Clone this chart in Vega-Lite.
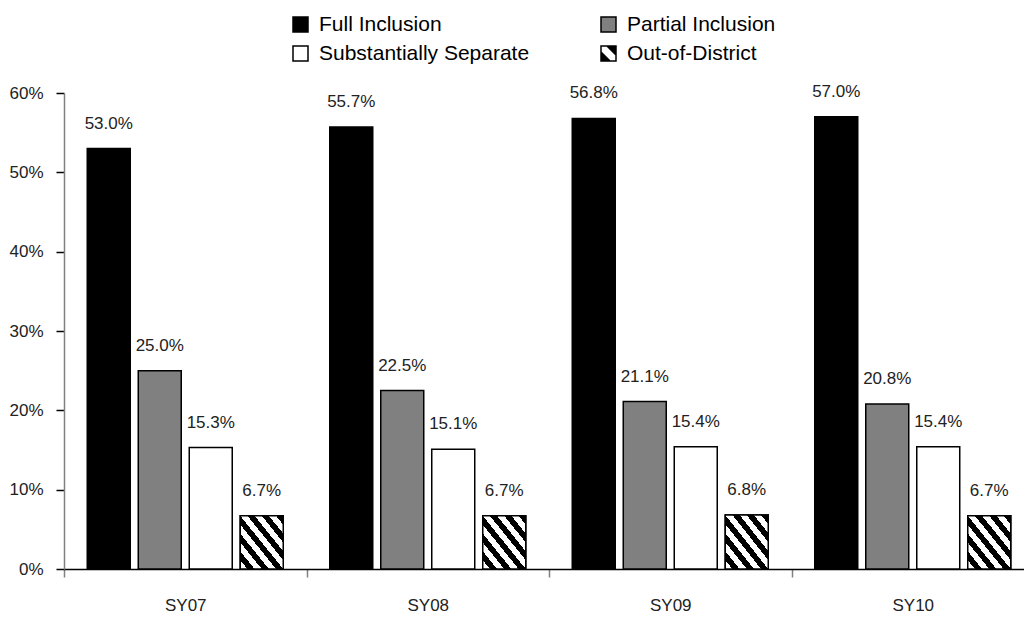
{
  "$schema": "https://vega.github.io/schema/vega-lite/v6.json",
  "autosize": {"type": "none"},
  "padding": {"left": 64, "top": 93, "right": 0, "bottom": 48},
  "width": 960,
  "height": 476,
  "background": "white",
  "config": {
    "view": {"stroke": null},
    "font": "Liberation Sans"
  },
  "data": {
    "values": [
      {"year": "SY07", "cat": "Full Inclusion", "value": 0.530},
      {"year": "SY07", "cat": "Partial Inclusion", "value": 0.250},
      {"year": "SY07", "cat": "Substantially Separate", "value": 0.153},
      {"year": "SY07", "cat": "Out-of-District", "value": 0.067},
      {"year": "SY08", "cat": "Full Inclusion", "value": 0.557},
      {"year": "SY08", "cat": "Partial Inclusion", "value": 0.225},
      {"year": "SY08", "cat": "Substantially Separate", "value": 0.151},
      {"year": "SY08", "cat": "Out-of-District", "value": 0.067},
      {"year": "SY09", "cat": "Full Inclusion", "value": 0.568},
      {"year": "SY09", "cat": "Partial Inclusion", "value": 0.211},
      {"year": "SY09", "cat": "Substantially Separate", "value": 0.154},
      {"year": "SY09", "cat": "Out-of-District", "value": 0.068},
      {"year": "SY10", "cat": "Full Inclusion", "value": 0.570},
      {"year": "SY10", "cat": "Partial Inclusion", "value": 0.208},
      {"year": "SY10", "cat": "Substantially Separate", "value": 0.154},
      {"year": "SY10", "cat": "Out-of-District", "value": 0.067}
    ]
  },
  "encoding": {
    "x": {
      "field": "year", "type": "nominal",
      "scale": {"paddingInner": 0, "paddingOuter": 0, "range": [0, 970]},
      "axis": {
        "title": null, "labelAngle": 0, "tickBand": "extent",
        "domainColor": "#000000", "domainWidth": 1.5,
        "tickColor": "#808080", "tickWidth": 1.5, "tickSize": 8,
        "labelPadding": 20, "labelFontSize": 17, "labelColor": "#222222",
        "labelFont": "Liberation Sans"
      }
    },
    "xOffset": {
      "field": "cat", "type": "nominal",
      "scale": {
        "domain": ["Full Inclusion", "Partial Inclusion", "Substantially Separate", "Out-of-District"],
        "paddingInner": 0.157, "paddingOuter": 0.456
      }
    },
    "y": {
      "field": "value", "type": "quantitative",
      "scale": {"domain": [0, 0.6], "nice": false},
      "axis": {
        "title": null, "grid": false, "values": [0, 0.1, 0.2, 0.3, 0.4, 0.5, 0.6],
        "format": ".0%", "domainColor": "#808080", "domainWidth": 1.5,
        "tickColor": "#000000", "tickWidth": 1.5, "tickSize": 8,
        "labelPadding": 13, "labelFontSize": 17, "labelColor": "#222222",
        "labelFont": "Liberation Sans"
      }
    }
  },
  "layer": [
    {
      "mark": {"type": "bar", "stroke": "#000000", "strokeWidth": 1.5},
      "encoding": {
        "fill": {
          "field": "cat", "type": "nominal",
          "scale": {
            "domain": ["Full Inclusion", "Partial Inclusion", "Substantially Separate", "Out-of-District"],
            "range": ["#000000", "#808080", "#ffffff", "#000000"]
          },
          "legend": {
            "title": null, "orient": "none", "legendX": 226, "legendY": -79,
            "direction": "horizontal", "columns": 2, "columnPadding": 68, "rowPadding": 7,
            "symbolType": "square", "symbolSize": 225, "symbolStrokeColor": "#000000",
            "symbolStrokeWidth": 1.5, "symbolOpacity": 1,
            "labelFont": "Liberation Sans", "labelFontSize": 21, "labelColor": "#000000",
            "labelOffset": 8, "labelLimit": 400, "padding": 0,
            "encode": {
              "symbols": {
                "update": {
                  "stroke": {"value": "#000000"},
                  "strokeWidth": {"value": 1.5},
                  "shape": [
                    {"test": "datum.value === 'Out-of-District'",
                     "value": "M-1,-1H1V1H-1Z M-1,-1L-1,-0.2L0.2,1L1,1L1,0.2L-0.2,-1Z"},
                    {"value": "square"}
                  ]
                }
              }
            }
          }
        }
      }
    },
    {
      "transform": [{"filter": "datum.cat === 'Out-of-District'"}],
      "mark": {
        "type": "bar", "stroke": "#000000", "strokeWidth": 1.5,
        "fill": {"gradient": "linear", "x1": 0, "y1": 1, "x2": 1, "y2": 0,
          "stops": [
            {"offset": 0, "color": "#ffffff"}, {"offset": 0.0833, "color": "#ffffff"},
            {"offset": 0.0833, "color": "#000000"}, {"offset": 0.1667, "color": "#000000"},
            {"offset": 0.1667, "color": "#ffffff"}, {"offset": 0.25, "color": "#ffffff"},
            {"offset": 0.25, "color": "#000000"}, {"offset": 0.3333, "color": "#000000"},
            {"offset": 0.3333, "color": "#ffffff"}, {"offset": 0.4167, "color": "#ffffff"},
            {"offset": 0.4167, "color": "#000000"}, {"offset": 0.5, "color": "#000000"},
            {"offset": 0.5, "color": "#ffffff"}, {"offset": 0.5833, "color": "#ffffff"},
            {"offset": 0.5833, "color": "#000000"}, {"offset": 0.6667, "color": "#000000"},
            {"offset": 0.6667, "color": "#ffffff"}, {"offset": 0.75, "color": "#ffffff"},
            {"offset": 0.75, "color": "#000000"}, {"offset": 0.8333, "color": "#000000"},
            {"offset": 0.8333, "color": "#ffffff"}, {"offset": 0.9167, "color": "#ffffff"},
            {"offset": 0.9167, "color": "#000000"}, {"offset": 1, "color": "#000000"}
          ]
        }
      },
      "encoding": {}
    },
    {
      "mark": {"type": "text", "baseline": "alphabetic", "dy": -20, "fontSize": 17, "color": "#222222", "font": "Liberation Sans"},
      "encoding": {
        "text": {"field": "value", "type": "quantitative", "format": ".1%"}
      }
    }
  ]
}
